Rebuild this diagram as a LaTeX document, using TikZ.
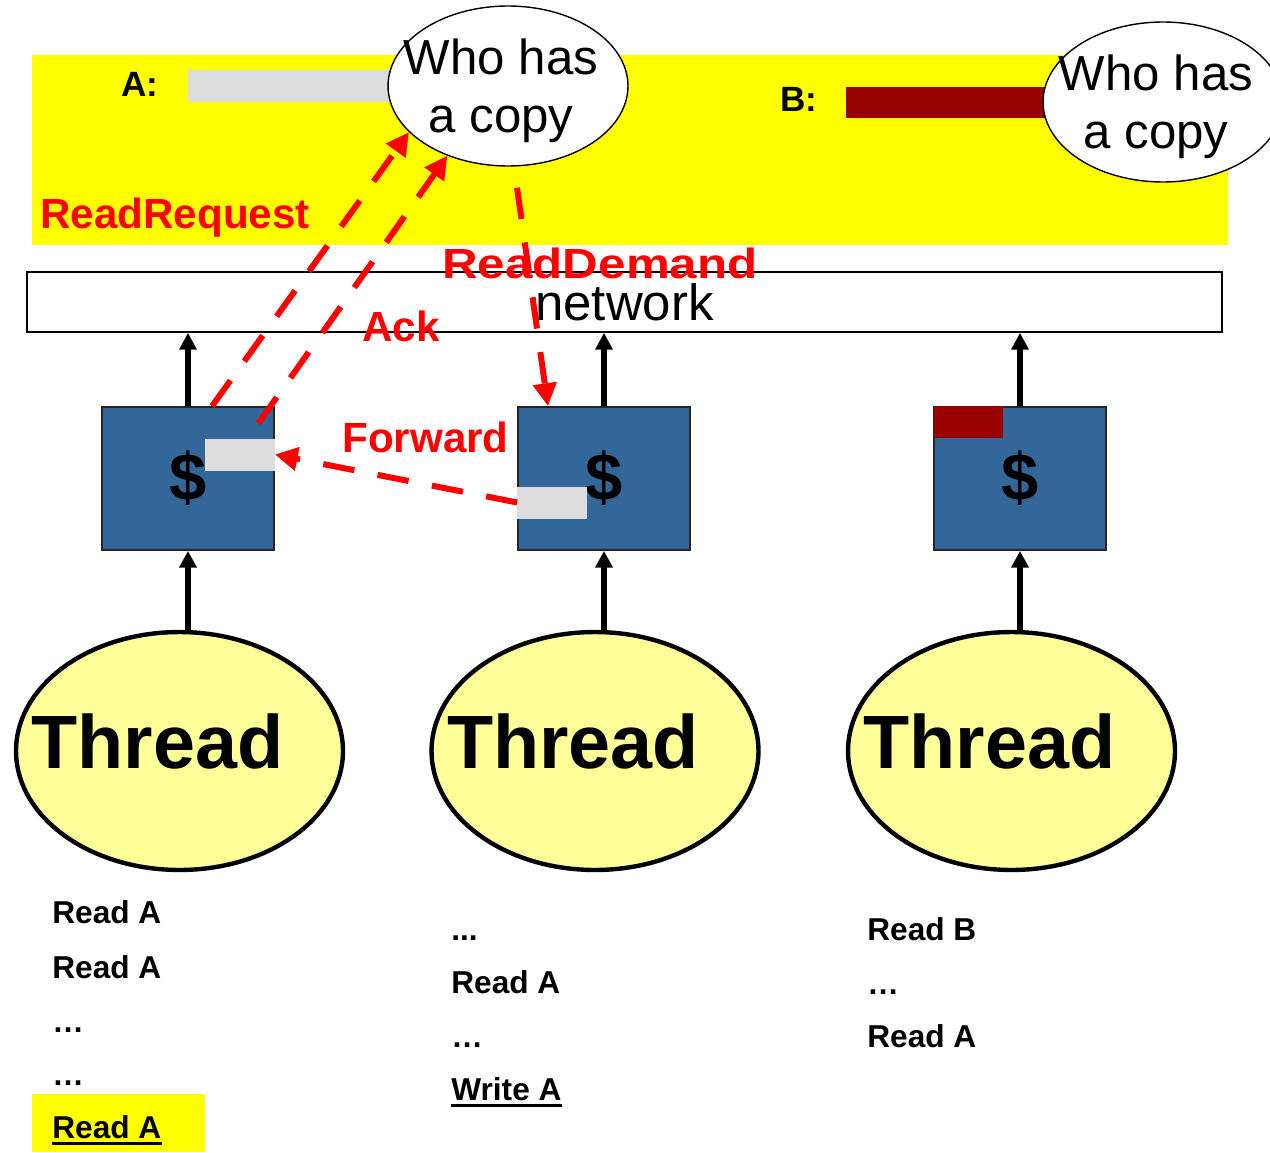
\documentclass[tikz,border=0pt]{standalone}
\usepackage{fontspec}
\setmainfont{Liberation Sans}
\usetikzlibrary{shapes.geometric,arrows.meta,calc,positioning}
\definecolor{cacheblue}{RGB}{51,102,153}
\definecolor{lightgrey}{RGB}{221,221,221}
\definecolor{darkred}{RGB}{153,0,0}
\definecolor{thrfill}{RGB}{255,255,153}
\definecolor{hiyellow}{RGB}{255,255,0}
\tikzset{
  lbl/.style={inner sep=0, font=\fontsize{20}{24}\selectfont\bfseries},
  bar/.style={rectangle, inner sep=0, minimum height=0.64cm},
  bubble/.style={ellipse, draw, line width=0.8pt, fill=white, minimum width=4.8cm, minimum height=3.2cm},
  bubtxt/.style={align=center, inner sep=0, font=\fontsize{28}{33}\selectfont},
  msg/.style={anchor=base west, inner sep=0, text=red, font=\fontsize{24}{28}\selectfont\bfseries},
  cache/.style={rectangle, draw=black!85, line width=1pt, fill=cacheblue, minimum width=3.44cm, minimum height=2.86cm, font=\fontsize{38}{40}\selectfont\bfseries},
  thr/.style={ellipse, draw, line width=2.5pt, fill=thrfill, minimum width=6.54cm, minimum height=4.76cm},
  thrtxt/.style={inner sep=0, font=\fontsize{43}{48}\selectfont\bfseries},
  code/.style={anchor=base west, inner sep=0, font=\fontsize{18}{20}\selectfont\bfseries},
  wire/.style={line width=2.9pt, -{Triangle[length=9.5pt,width=9.5pt]}},
  req/.style={red, line width=3.4pt, dash pattern=on 18pt off 13.5pt, -{Triangle[length=13pt,width=13pt]}}
}
\begin{document}
\begin{tikzpicture}[x=0.02cm,y=-0.02cm]
\useasboundingbox (0,0) rectangle (1270,1152);
\fill[hiyellow] (32,55) rectangle (1228,245);
\node[lbl] (la) at (140,84) {A:};
\node[bar, fill=lightgrey, minimum width=4.04cm] (ba) at (289,86) {};
\node[lbl] (lb) at (799,99) {B:};
\node[bar, fill=darkred, minimum width=4cm] (bb) at (946,102.5) {};
\node[bubble] (whoA) at (508,86) {};
\node[bubtxt] (whoAt) at ($(whoA)+(-7,5)$) {Who has\\a copy};
\node[bubble] (whoB) at (1163,102) {};
\node[bubtxt] (whoBt) at ($(whoB)+(-7,5)$) {Who has\\a copy};

\node[draw, line width=1pt, minimum width=23.9cm, minimum height=1.2cm, font=\fontsize{29}{32}\selectfont] (net) at (624.5,302) {network};
\node[msg] (rreq) at (40,228) {ReadRequest};
\node[msg] (rdem) at (442,278) {\scalebox{1.17}[1]{ReadDemand}};
\node[msg] (ack) at (362,341) {Ack};
\node[msg] (fwd) at (342,452) {Forward};

\node[cache] (c1) at (188,478.5) {\$};
\node[cache] (c2) at (604,478.5) {\$};
\node[cache] (c3) at (1020,478.5) {\$};
\node[bar, fill=lightgrey, minimum width=1.4cm, anchor=east] (g1) at ($(c1.east)+(0,-24)$) {};
\node[bar, fill=lightgrey, minimum width=1.4cm, anchor=west] (g2) at ($(c2.west)+(0,24)$) {};
\node[bar, fill=darkred, minimum width=1.4cm, anchor=north west] (r3) at (c3.north west) {};

\node[thr] (t1) at (179.5,751) {};
\node[thr] (t2) at (595,751) {};
\node[thr] (t3) at (1011.5,751) {};
\node[thrtxt] (tt1) at ($(t1)+(-22,-9.5)$) {Thread};
\node[thrtxt] (tt2) at ($(t2)+(-22,-9.5)$) {Thread};
\node[thrtxt] (tt3) at ($(t3)+(-22,-9.5)$) {Thread};

\draw[wire] (c1.south |- t1.north) -- (c1.south);
\draw[wire] (c2.south |- t2.north) -- (c2.south);
\draw[wire] (c3.south |- t3.north) -- (c3.south);
\draw[wire] (c1.north) -- (c1.north |- net.south);
\draw[wire] (c2.north) -- (c2.north |- net.south);
\draw[wire] (c3.north) -- (c3.north |- net.south);

\draw[req] ($(c1.north)+(24,0)$) -- (whoA.205);
\draw[req] ($(g1.north)+(19,-15)$) -- (whoA.229);
\draw[req] ($(whoA.south)+(9,21)$) -- ($(c2.north)+(-56,0)$);
\draw[req] (g2.west) -- (g1.east);

\node[code] (a1) at (52,923) {Read A};
\node[code] (a2) at (52,978) {Read A};
\node[code] (a3) at (52,1032) {…};
\node[code] (a4) at (52,1085) {…};
\fill[hiyellow] (32,1094) rectangle (205,1152);
\node[code] (a5) at (52,1138) {Read A};
\draw[line width=1.7pt] ($(a5.base west)+(0,5.5)$) -- ($(a5.base east)+(0,5.5)$);

\node[code] (b1) at (451,940) {...};
\node[code] (b2) at (451,993) {Read A};
\node[code] (b3) at (451,1047) {…};
\node[code] (b4) at (451,1100) {Write A};
\draw[line width=1.7pt] ($(b4.base west)+(0,5.5)$) -- ($(b4.base east)+(0,5.5)$);

\node[code] (d1) at (867,940) {Read B};
\node[code] (d2) at (867,994) {…};
\node[code] (d3) at (867,1047) {Read A};
\end{tikzpicture}
\end{document}
